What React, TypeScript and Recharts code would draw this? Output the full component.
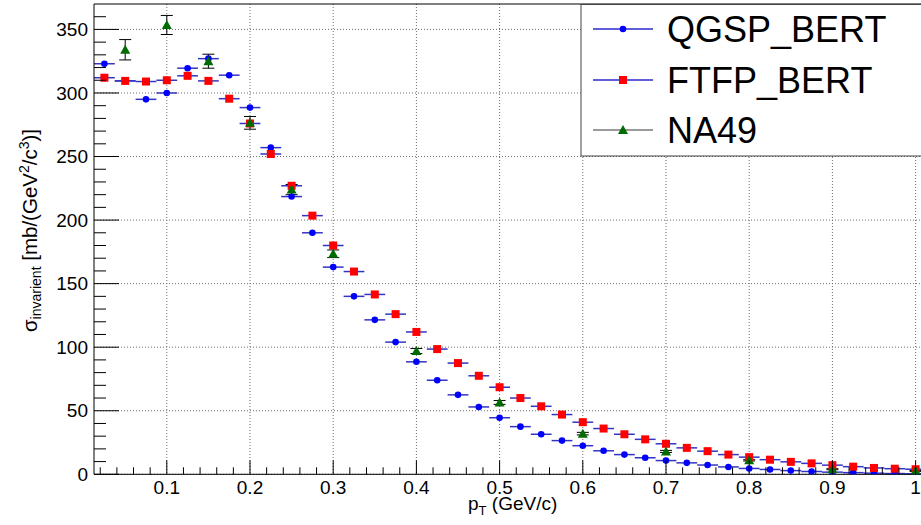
import React from "react";
import {
  CartesianGrid,
  ErrorBar,
  ReferenceLine,
  Scatter,
  ScatterChart,
  XAxis,
  YAxis,
} from "recharts";

// bin centres (GeV/c), 0.025 wide bins
const ptBins = [
  0.025, 0.05, 0.075, 0.1, 0.125, 0.15, 0.175, 0.2, 0.225, 0.25,
  0.275, 0.3, 0.325, 0.35, 0.375, 0.4, 0.425, 0.45, 0.475, 0.5,
  0.525, 0.55, 0.575, 0.6, 0.625, 0.65, 0.675, 0.7, 0.725, 0.75,
  0.775, 0.8, 0.825, 0.85, 0.875, 0.9, 0.925, 0.95, 0.975, 1.0,
];
const binHalfWidth = 0.0125;

const qgspValues = [
  323, 309.5, 295, 300, 319.5, 327, 314, 288.5, 257, 218.5,
  190, 163, 140, 121.5, 104, 88.5, 74, 62.5, 53, 44.5,
  37.5, 31.5, 26.5, 22.5, 18.5, 15.5, 13, 10.8, 9, 7.3,
  5.8, 4.6, 3.8, 2.9, 2.2, 1.7, 1.3, 0.9, 0.6, 0.4,
];

const ftfpValues = [
  312, 309.5, 309, 310, 313.5, 309.5, 295.5, 276, 252, 227,
  203.5, 180, 159.5, 141.5, 126, 112, 98.5, 87.5, 77.5, 68.5,
  60, 53.5, 47, 41, 36, 31.5, 27.5, 24, 20.8, 18.2,
  15.5, 13.5, 11.5, 9.8, 8.6, 7.2, 6, 5, 4.4, 4,
];

const na49Pt = [0.05, 0.1, 0.15, 0.2, 0.25, 0.3, 0.4, 0.5, 0.6, 0.7, 0.8, 0.9, 1.0];
const na49Values = [334, 353.5, 325, 276.5, 224, 173.5, 97, 56.5, 32, 18, 11, 4, 2.6];
const na49Errors = [8, 7.5, 5.5, 5, 4, 3, 2, 1.5, 1, 0.8, 0.5, 0.4, 0.3];

const xMajorTicks = [0.1, 0.2, 0.3, 0.4, 0.5, 0.6, 0.7, 0.8, 0.9, 1];
const yMajorTicks = [0, 50, 100, 150, 200, 250, 300, 350];
const xDomain: [number, number] = [0.0125, 1.0125];
const yDomain: [number, number] = [0, 370];

// 5 subdivisions per major interval, like ROOT's default ndivisions
const xAllTicks: number[] = [];
for (let i = 1; i <= 50; i++) xAllTicks.push(Math.round(i * 2) / 100);
const yAllTicks: number[] = [];
for (let v = 0; v <= 360; v += 10) yAllTicks.push(v);

const FONT = '"Liberation Sans", Arial, Helvetica, sans-serif';
const BLUE_BAR = "#3434c4";

const qgspData = ptBins.map((x, i) => ({ x, y: qgspValues[i], ex: binHalfWidth }));
const ftfpData = ptBins.map((x, i) => ({ x, y: ftfpValues[i], ex: binHalfWidth }));
const na49Data = na49Pt.map((x, i) => ({ x, y: na49Values[i], ey: na49Errors[i] }));

const isMajor = (v: number, step: number) =>
  Math.abs(v / step - Math.round(v / step)) < 1e-6;

function XTick(props: any) {
  const { x, y, payload } = props;
  const v = payload.value as number;
  const major = isMajor(v, 0.1);
  return (
    <g>
      <line x1={x} x2={x} y1={y} y2={y - (major ? 14 : 7)} stroke="#000" />
      {major && (
        <text x={x} y={y + 20} textAnchor="middle" fontSize={19} fontFamily={FONT} fill="#000">
          {String(v)}
        </text>
      )}
    </g>
  );
}

function YTick(props: any) {
  const { x, y, payload } = props;
  const v = payload.value as number;
  const major = isMajor(v, 50);
  return (
    <g>
      <line x1={x} x2={x + (major ? 25 : 12)} y1={y} y2={y} stroke="#000" />
      {major && (
        <text x={x - 6} y={y} dy="0.35em" textAnchor="end" fontSize={19} fontFamily={FONT} fill="#000">
          {String(v)}
        </text>
      )}
    </g>
  );
}

const circle = (p: any) => <circle cx={p.cx} cy={p.cy} r={3.3} fill="#0000ff" />;
const square = (p: any) => <rect x={p.cx - 4} y={p.cy - 4} width={8} height={8} fill="#ff0000" />;
const triangle = (p: any) => (
  <polygon
    points={`${p.cx - 5},${p.cy + 4} ${p.cx + 5},${p.cy + 4} ${p.cx},${p.cy - 5}`}
    fill="#006b00"
  />
);

const legendItems = [
  { name: "QGSP_BERT", line: "#2a2ad0", marker: "circle" },
  { name: "FTFP_BERT", line: "#2a2ad0", marker: "square" },
  { name: "NA49", line: "#7a7a7a", marker: "triangle" },
];

function LegendBox() {
  const rowY = [29, 80, 130];
  return (
    <g>
      <rect x={581} y={4.5} width={345} height={151.5} fill="#fff" stroke="#444" />
      {legendItems.map((it, i) => {
        const cy = rowY[i];
        return (
          <g key={it.name}>
            <line x1={593} x2={653} y1={cy} y2={cy} stroke={it.line} strokeWidth={1.5} />
            {it.marker === "circle" && circle({ cx: 623, cy })}
            {it.marker === "square" && square({ cx: 623, cy })}
            {it.marker === "triangle" && triangle({ cx: 623, cy })}
            <text x={667} y={cy} dy="0.35em" fontSize={36} fontFamily={FONT} fill="#000">
              {it.name}
            </text>
          </g>
        );
      })}
    </g>
  );
}

export default function App() {
  return (
    <div
      style={{
        position: "absolute",
        left: 0,
        top: 0,
        width: 921,
        height: 525,
        overflow: "hidden",
        background: "#fff",
      }}
    >
      <ScatterChart
        width={927}
        height={525}
        margin={{ top: 4, right: 1, bottom: 0, left: 0 }}
      >
        <CartesianGrid
          stroke="#6e6e6e"
          strokeDasharray="1 2"
          horizontalValues={yMajorTicks}
          verticalValues={xMajorTicks}
        />
        <XAxis
          type="number"
          dataKey="x"
          domain={xDomain}
          allowDataOverflow
          ticks={xAllTicks}
          interval={0}
          height={50.7}
          tickSize={0}
          tickMargin={0}
          tickLine={false}
          axisLine={{ stroke: "#000" }}
          tick={<XTick />}
        />
        <YAxis
          type="number"
          dataKey="y"
          domain={yDomain}
          allowDataOverflow
          ticks={yAllTicks}
          interval={0}
          width={94}
          tickSize={0}
          tickMargin={0}
          tickLine={false}
          axisLine={{ stroke: "#000" }}
          tick={<YTick />}
        />
        <ReferenceLine y={370} stroke="#000" />
        <Scatter data={qgspData} shape={circle} isAnimationActive={false}>
          <ErrorBar dataKey="ex" direction="x" width={0} stroke={BLUE_BAR} strokeWidth={1.5} />
        </Scatter>
        <Scatter data={ftfpData} shape={square} isAnimationActive={false}>
          <ErrorBar dataKey="ex" direction="x" width={0} stroke={BLUE_BAR} strokeWidth={1.5} />
        </Scatter>
        <Scatter data={na49Data} shape={triangle} isAnimationActive={false}>
          <ErrorBar dataKey="ey" direction="y" width={6} stroke="#000" strokeWidth={1} />
        </Scatter>
      </ScatterChart>
      <svg
        width={921}
        height={525}
        style={{ position: "absolute", left: 0, top: 0, pointerEvents: "none" }}
      >
        <LegendBox />
        <text x={468} y={510} fontSize={19} fontFamily={FONT} fill="#000">
          p<tspan fontSize={13} dy={5}>T</tspan>
          <tspan dy={-5}> (GeV/c)</tspan>
        </text>
        <text
          transform="translate(37,230.5) rotate(-90)"
          textAnchor="middle"
          fontSize={20.5}
          fontFamily={FONT}
          fill="#000"
        >
          σ<tspan fontSize={14} dy={4}>invarient</tspan>
          <tspan dy={-4}> [mb/(GeV</tspan>
          <tspan fontSize={14} dy={-8}>2</tspan>
          <tspan dy={8}>/c</tspan>
          <tspan fontSize={14} dy={-8}>3</tspan>
          <tspan dy={8}>)]</tspan>
        </text>
      </svg>
    </div>
  );
}
